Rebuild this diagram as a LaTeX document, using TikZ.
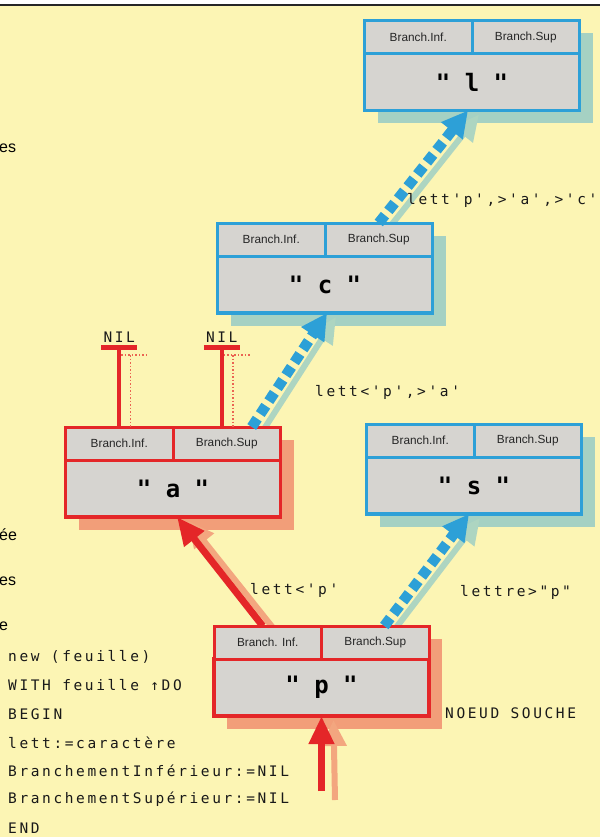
\documentclass[tikz,border=0pt]{standalone}
\usepackage{fontspec}
\setmainfont{Liberation Sans}
\newfontfamily\matrice[LetterSpace=18]{DejaVu Sans Mono}
\newfontfamily\gros{DejaVu Sans Mono}
\usetikzlibrary{arrows.meta,backgrounds}
\definecolor{fond}{RGB}{252,245,180}
\definecolor{rouge}{RGB}{228,38,40}
\definecolor{bleu}{RGB}{45,160,215}
\definecolor{gris}{RGB}{214,212,208}
\tikzset{
  contenu/.style={draw, fill=gris, line width=3.5pt, outer sep=0pt, inner sep=0pt,
    minimum width=215pt, minimum height=57pt, font=\gros\bfseries\fontsize{24}{24}\selectfont},
  entete/.style={draw, fill=gris, line width=3pt, outer sep=0pt, inner sep=0pt,
    minimum width=107.5pt, minimum height=33pt, text=black!85,
    font=\fontsize{11.8}{12}\selectfont},
  etiq/.style={inner sep=0pt, anchor=west, text=black!90, font=\matrice\fontsize{14.5}{15}\selectfont},
  bribe/.style={inner sep=0pt, anchor=west, font=\fontsize{16}{16}\selectfont},
  fleche bleue/.style={draw=bleu, line width=10.5pt, dash pattern=on 10pt off 5.5pt,
    -{Triangle[length=26pt,width=26pt]}},
  fleche rouge/.style={draw=rouge, line width=7pt, -{Triangle[length=28pt,width=24pt]}},
  ombre/.style={draw=#1!38!fond, line width=6pt, -{Triangle[length=26pt,width=24pt]}},
  filet/.style={draw=rouge, line width=4pt},
  barre/.style={draw=rouge, line width=5pt},
  ombre fil/.style={draw=rouge!70!fond, line width=1.5pt, dotted}
}
\begin{document}
\begin{tikzpicture}[x=1pt,y=-1pt]
\useasboundingbox (0,0) rectangle (600,837);
\begin{scope}[on background layer]
  \fill[fond] (0,6) rectangle (600,837);
\end{scope}
\draw[line width=2pt, black!85] (0,5) -- (600,5);

% les noeuds
\node[contenu, draw=bleu] (l) at (472,82) {" l "};
\node[entete, draw=bleu, anchor=south west] (l-inf) at (l.north west) {Branch.Inf.};
\node[entete, draw=bleu, anchor=south east] (l-sup) at (l.north east) {Branch.Sup};

\node[contenu, draw=bleu] (c) at (325,284.5) {" c "};
\node[entete, draw=bleu, anchor=south west] (c-inf) at (c.north west) {Branch.Inf.};
\node[entete, draw=bleu, anchor=south east] (c-sup) at (c.north east) {Branch.Sup};

\node[contenu, draw=rouge] (a) at (173,488.5) {" a "};
\node[entete, draw=rouge, anchor=south west] (a-inf) at (a.north west) {Branch.Inf.};
\node[entete, draw=rouge, anchor=south east] (a-sup) at (a.north east) {Branch.Sup};

\node[contenu, draw=bleu] (s) at (474,485.5) {" s "};
\node[entete, draw=bleu, anchor=south west] (s-inf) at (s.north west) {Branch.Inf.};
\node[entete, draw=bleu, anchor=south east] (s-sup) at (s.north east) {Branch.Sup};

\node[contenu, draw=rouge] (p) at (321.5,687.5) {" p "};
\node[entete, draw=rouge, anchor=south west] (p-inf) at (p.north west) {Branch. Inf.};
\node[entete, draw=rouge, anchor=south east] (p-sup) at (p.north east) {Branch.Sup};

\begin{scope}[on background layer]
  \foreach \n/\c in {l/bleu,c/bleu,s/bleu,a/rouge,p/rouge}
    \fill[\c!42!fond] ([shift={(13,13)}]\n-inf.north west) rectangle ([shift={(13,13)}]\n.south east);
  \draw[ombre=bleu] ([shift={(11,4)}]c-sup.north) -- ([shift={(7,4)}]l.south);
  \draw[ombre=bleu] ([shift={(36,4)}]a-sup.north) -- ([shift={(11,4)}]c.south);
  \draw[ombre=bleu] ([shift={(19,4)}]p-sup.north) -- ([shift={(6,4)}]s.south);
  \draw[ombre=rouge] ([shift={(7,4)}]p-inf.north) -- ([shift={(15,4)}]a.south);
  \draw[ombre=rouge] (335,800) -- ([shift={(12,4)}]p.south);
\end{scope}

% les NIL
\path (a-inf.north) ++(0,-80) coordinate (t1);
\path (a-sup.north) ++(-5,-80) coordinate (t2);
\foreach \t/\n in {t1/nil1,t2/nil2}{
  \draw[ombre fil] ([shift={(11,8)}]\t) -- ++(0,72);
  \draw[ombre fil] ([shift={(2,8)}]\t) -- ++(26,0);
  \draw[filet] (\t) -- (\t |- a-inf.north);
  \draw[barre] ([xshift=-18pt]\t) -- ([xshift=18pt]\t);
  \node[etiq, anchor=south] (\n) at ([yshift=4pt]\t) {NIL};
}

% les branches
\draw[fleche bleue] (c-sup.north) -- ([xshift=-4pt]l.south);
\draw[fleche bleue] ([xshift=25pt]a-sup.north) -- ([xshift=2pt]c.south);
\draw[fleche bleue] ([xshift=9pt]p-sup.north) -- ([xshift=-5pt]s.south);
\draw[fleche rouge] ([xshift=-5pt]p-inf.north) -- ([xshift=4pt]a.south);
\coordinate (racine) at (321.5,791);
\draw[fleche rouge] (racine) -- (p.south);

\node[etiq] (e1) at (407,200) {lett'p',>'a',>'c'};
\node[etiq] (e2) at (315,392) {lett<'p',>'a'};
\node[etiq] (e3) at (250,590) {lett<'p'};
\node[etiq] (e4) at (460,592) {lettre>"p"};
\node[etiq] (souche) at (445,713) {NOEUD SOUCHE};

\foreach \t [count=\i] in {new (feuille),WITH feuille ↑DO,BEGIN,lett:=caractère,
    BranchementInférieur:=NIL,BranchementSupérieur:=NIL,END}
  \node[etiq] (code\i) at (8,{628.5+28.5*\i}) {\t};

\node[bribe] (b1) at (-1,148) {es};
\node[bribe] (b2) at (-1,535) {ée};
\node[bribe] (b3) at (-1,581) {es};
\node[bribe] (b4) at (-1,626) {e};
\end{tikzpicture}
\end{document}
